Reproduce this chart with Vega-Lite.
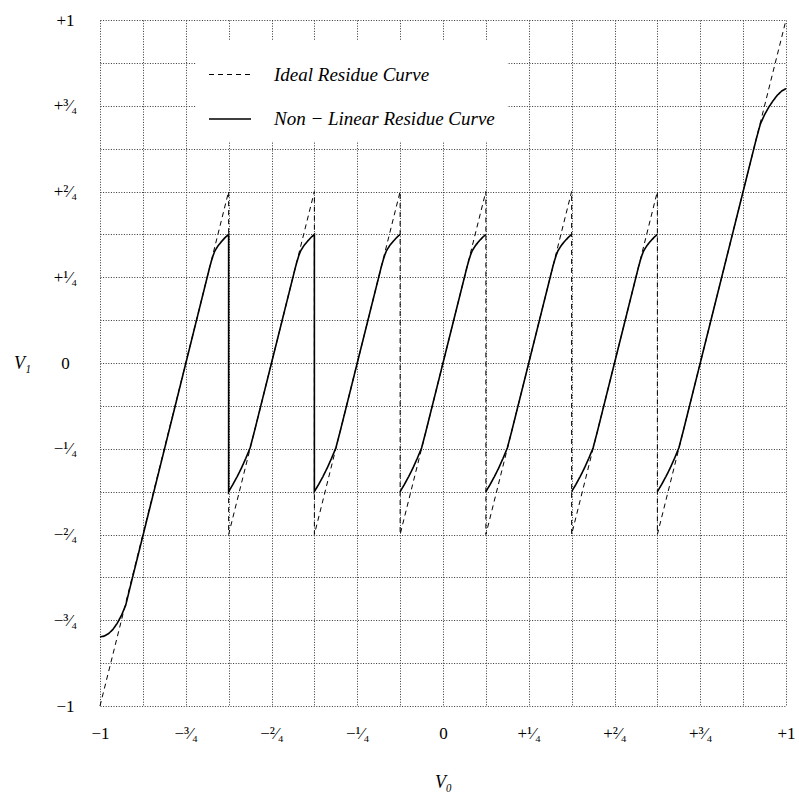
{
  "$schema": "https://vega.github.io/schema/vega-lite/v6.json",
  "width": 686,
  "height": 686,
  "autosize": "none",
  "padding": {"left": 100, "top": 20, "right": 13, "bottom": 92},
  "background": "white",
  "config": {
    "view": {"stroke": null},
    "font": "Liberation Serif",
    "axis": {
      "grid": true,
      "gridDash": [1, 1.6],
      "gridColor": "#333333",
      "gridOpacity": 1,
      "gridWidth": 1,
      "domain": false,
      "ticks": false,
      "tickSize": 0,
      "labelFont": "Liberation Serif",
      "labelFontSize": 17,
      "labelColor": "black",
      "labelFlush": false,
      "labelOverlap": false,
      "titleFont": "Liberation Serif",
      "titleFontStyle": "italic",
      "titleFontWeight": "normal",
      "titleFontSize": 18,
      "titleColor": "black"
    }
  },
  "data": {
    "values": [
      {"curve": "Ideal Residue Curve", "g": "i", "o": 0, "v0": -1, "v1": -1},
      {"curve": "Ideal Residue Curve", "g": "i", "o": 1, "v0": -0.625, "v1": 0.5},
      {"curve": "Ideal Residue Curve", "g": "i", "o": 2, "v0": -0.625, "v1": -0.5},
      {"curve": "Ideal Residue Curve", "g": "i", "o": 3, "v0": -0.375, "v1": 0.5},
      {"curve": "Ideal Residue Curve", "g": "i", "o": 4, "v0": -0.375, "v1": -0.5},
      {"curve": "Ideal Residue Curve", "g": "i", "o": 5, "v0": -0.125, "v1": 0.5},
      {"curve": "Ideal Residue Curve", "g": "i", "o": 6, "v0": -0.125, "v1": -0.5},
      {"curve": "Ideal Residue Curve", "g": "i", "o": 7, "v0": 0.125, "v1": 0.5},
      {"curve": "Ideal Residue Curve", "g": "i", "o": 8, "v0": 0.125, "v1": -0.5},
      {"curve": "Ideal Residue Curve", "g": "i", "o": 9, "v0": 0.375, "v1": 0.5},
      {"curve": "Ideal Residue Curve", "g": "i", "o": 10, "v0": 0.375, "v1": -0.5},
      {"curve": "Ideal Residue Curve", "g": "i", "o": 11, "v0": 0.625, "v1": 0.5},
      {"curve": "Ideal Residue Curve", "g": "i", "o": 12, "v0": 0.625, "v1": -0.5},
      {"curve": "Ideal Residue Curve", "g": "i", "o": 13, "v0": 1, "v1": 1},

      {"curve": "Non − Linear Residue Curve", "g": "a", "o": 0, "v0": -1, "v1": -0.799},
      {"curve": "Non − Linear Residue Curve", "g": "a", "o": 1, "v0": -0.9875, "v1": -0.796},
      {"curve": "Non − Linear Residue Curve", "g": "a", "o": 2, "v0": -0.975, "v1": -0.789},
      {"curve": "Non − Linear Residue Curve", "g": "a", "o": 3, "v0": -0.9625, "v1": -0.777},
      {"curve": "Non − Linear Residue Curve", "g": "a", "o": 4, "v0": -0.95, "v1": -0.759},
      {"curve": "Non − Linear Residue Curve", "g": "a", "o": 5, "v0": -0.9375, "v1": -0.736},
      {"curve": "Non − Linear Residue Curve", "g": "a", "o": 6, "v0": -0.925, "v1": -0.706},
      {"curve": "Non − Linear Residue Curve", "g": "a", "o": 7, "v0": -0.9125, "v1": -0.655},
      {"curve": "Non − Linear Residue Curve", "g": "a", "o": 8, "v0": -0.68, "v1": 0.28},
      {"curve": "Non − Linear Residue Curve", "g": "a", "o": 9, "v0": -0.675, "v1": 0.298},
      {"curve": "Non − Linear Residue Curve", "g": "a", "o": 10, "v0": -0.67, "v1": 0.314},
      {"curve": "Non − Linear Residue Curve", "g": "a", "o": 11, "v0": -0.665, "v1": 0.327},
      {"curve": "Non − Linear Residue Curve", "g": "a", "o": 12, "v0": -0.655, "v1": 0.343},
      {"curve": "Non − Linear Residue Curve", "g": "a", "o": 13, "v0": -0.645, "v1": 0.355},
      {"curve": "Non − Linear Residue Curve", "g": "a", "o": 14, "v0": -0.635, "v1": 0.366},
      {"curve": "Non − Linear Residue Curve", "g": "a", "o": 15, "v0": -0.625, "v1": 0.375},
      {"curve": "Non − Linear Residue Curve", "g": "a", "o": 16, "v0": -0.625, "v1": -0.375},
      {"curve": "Non − Linear Residue Curve", "g": "a", "o": 17, "v0": -0.6125, "v1": -0.354},
      {"curve": "Non − Linear Residue Curve", "g": "a", "o": 18, "v0": -0.6, "v1": -0.331},
      {"curve": "Non − Linear Residue Curve", "g": "a", "o": 19, "v0": -0.5875, "v1": -0.306},
      {"curve": "Non − Linear Residue Curve", "g": "a", "o": 20, "v0": -0.575, "v1": -0.278},
      {"curve": "Non − Linear Residue Curve", "g": "a", "o": 21, "v0": -0.5625, "v1": -0.248},
      {"curve": "Non − Linear Residue Curve", "g": "a", "o": 22, "v0": -0.55, "v1": -0.2},
      {"curve": "Non − Linear Residue Curve", "g": "a", "o": 23, "v0": -0.43, "v1": 0.28},
      {"curve": "Non − Linear Residue Curve", "g": "a", "o": 24, "v0": -0.425, "v1": 0.298},
      {"curve": "Non − Linear Residue Curve", "g": "a", "o": 25, "v0": -0.42, "v1": 0.314},
      {"curve": "Non − Linear Residue Curve", "g": "a", "o": 26, "v0": -0.415, "v1": 0.327},
      {"curve": "Non − Linear Residue Curve", "g": "a", "o": 27, "v0": -0.405, "v1": 0.343},
      {"curve": "Non − Linear Residue Curve", "g": "a", "o": 28, "v0": -0.395, "v1": 0.355},
      {"curve": "Non − Linear Residue Curve", "g": "a", "o": 29, "v0": -0.385, "v1": 0.366},
      {"curve": "Non − Linear Residue Curve", "g": "a", "o": 30, "v0": -0.375, "v1": 0.375},
      {"curve": "Non − Linear Residue Curve", "g": "a", "o": 31, "v0": -0.375, "v1": -0.375},
      {"curve": "Non − Linear Residue Curve", "g": "a", "o": 32, "v0": -0.3625, "v1": -0.354},
      {"curve": "Non − Linear Residue Curve", "g": "a", "o": 33, "v0": -0.35, "v1": -0.331},
      {"curve": "Non − Linear Residue Curve", "g": "a", "o": 34, "v0": -0.3375, "v1": -0.306},
      {"curve": "Non − Linear Residue Curve", "g": "a", "o": 35, "v0": -0.325, "v1": -0.278},
      {"curve": "Non − Linear Residue Curve", "g": "a", "o": 36, "v0": -0.3125, "v1": -0.248},
      {"curve": "Non − Linear Residue Curve", "g": "a", "o": 37, "v0": -0.3, "v1": -0.2},
      {"curve": "Non − Linear Residue Curve", "g": "a", "o": 38, "v0": -0.18, "v1": 0.28},
      {"curve": "Non − Linear Residue Curve", "g": "a", "o": 39, "v0": -0.175, "v1": 0.298},
      {"curve": "Non − Linear Residue Curve", "g": "a", "o": 40, "v0": -0.17, "v1": 0.314},
      {"curve": "Non − Linear Residue Curve", "g": "a", "o": 41, "v0": -0.165, "v1": 0.327},
      {"curve": "Non − Linear Residue Curve", "g": "a", "o": 42, "v0": -0.155, "v1": 0.343},
      {"curve": "Non − Linear Residue Curve", "g": "a", "o": 43, "v0": -0.145, "v1": 0.355},
      {"curve": "Non − Linear Residue Curve", "g": "a", "o": 44, "v0": -0.135, "v1": 0.366},
      {"curve": "Non − Linear Residue Curve", "g": "a", "o": 45, "v0": -0.125, "v1": 0.375},

      {"curve": "Non − Linear Residue Curve", "g": "b", "o": 0, "v0": -0.125, "v1": -0.375},
      {"curve": "Non − Linear Residue Curve", "g": "b", "o": 1, "v0": -0.1125, "v1": -0.354},
      {"curve": "Non − Linear Residue Curve", "g": "b", "o": 2, "v0": -0.1, "v1": -0.331},
      {"curve": "Non − Linear Residue Curve", "g": "b", "o": 3, "v0": -0.0875, "v1": -0.306},
      {"curve": "Non − Linear Residue Curve", "g": "b", "o": 4, "v0": -0.075, "v1": -0.278},
      {"curve": "Non − Linear Residue Curve", "g": "b", "o": 5, "v0": -0.0625, "v1": -0.248},
      {"curve": "Non − Linear Residue Curve", "g": "b", "o": 6, "v0": -0.05, "v1": -0.2},
      {"curve": "Non − Linear Residue Curve", "g": "b", "o": 7, "v0": 0.07, "v1": 0.28},
      {"curve": "Non − Linear Residue Curve", "g": "b", "o": 8, "v0": 0.075, "v1": 0.298},
      {"curve": "Non − Linear Residue Curve", "g": "b", "o": 9, "v0": 0.08, "v1": 0.314},
      {"curve": "Non − Linear Residue Curve", "g": "b", "o": 10, "v0": 0.085, "v1": 0.327},
      {"curve": "Non − Linear Residue Curve", "g": "b", "o": 11, "v0": 0.095, "v1": 0.343},
      {"curve": "Non − Linear Residue Curve", "g": "b", "o": 12, "v0": 0.105, "v1": 0.355},
      {"curve": "Non − Linear Residue Curve", "g": "b", "o": 13, "v0": 0.115, "v1": 0.366},
      {"curve": "Non − Linear Residue Curve", "g": "b", "o": 14, "v0": 0.125, "v1": 0.375},

      {"curve": "Non − Linear Residue Curve", "g": "c", "o": 0, "v0": 0.125, "v1": -0.375},
      {"curve": "Non − Linear Residue Curve", "g": "c", "o": 1, "v0": 0.1375, "v1": -0.354},
      {"curve": "Non − Linear Residue Curve", "g": "c", "o": 2, "v0": 0.15, "v1": -0.331},
      {"curve": "Non − Linear Residue Curve", "g": "c", "o": 3, "v0": 0.1625, "v1": -0.306},
      {"curve": "Non − Linear Residue Curve", "g": "c", "o": 4, "v0": 0.175, "v1": -0.278},
      {"curve": "Non − Linear Residue Curve", "g": "c", "o": 5, "v0": 0.1875, "v1": -0.248},
      {"curve": "Non − Linear Residue Curve", "g": "c", "o": 6, "v0": 0.2, "v1": -0.2},
      {"curve": "Non − Linear Residue Curve", "g": "c", "o": 7, "v0": 0.32, "v1": 0.28},
      {"curve": "Non − Linear Residue Curve", "g": "c", "o": 8, "v0": 0.325, "v1": 0.298},
      {"curve": "Non − Linear Residue Curve", "g": "c", "o": 9, "v0": 0.33, "v1": 0.314},
      {"curve": "Non − Linear Residue Curve", "g": "c", "o": 10, "v0": 0.335, "v1": 0.327},
      {"curve": "Non − Linear Residue Curve", "g": "c", "o": 11, "v0": 0.345, "v1": 0.343},
      {"curve": "Non − Linear Residue Curve", "g": "c", "o": 12, "v0": 0.355, "v1": 0.355},
      {"curve": "Non − Linear Residue Curve", "g": "c", "o": 13, "v0": 0.365, "v1": 0.366},
      {"curve": "Non − Linear Residue Curve", "g": "c", "o": 14, "v0": 0.375, "v1": 0.375},

      {"curve": "Non − Linear Residue Curve", "g": "d", "o": 0, "v0": 0.375, "v1": -0.375},
      {"curve": "Non − Linear Residue Curve", "g": "d", "o": 1, "v0": 0.3875, "v1": -0.354},
      {"curve": "Non − Linear Residue Curve", "g": "d", "o": 2, "v0": 0.4, "v1": -0.331},
      {"curve": "Non − Linear Residue Curve", "g": "d", "o": 3, "v0": 0.4125, "v1": -0.306},
      {"curve": "Non − Linear Residue Curve", "g": "d", "o": 4, "v0": 0.425, "v1": -0.278},
      {"curve": "Non − Linear Residue Curve", "g": "d", "o": 5, "v0": 0.4375, "v1": -0.248},
      {"curve": "Non − Linear Residue Curve", "g": "d", "o": 6, "v0": 0.45, "v1": -0.2},
      {"curve": "Non − Linear Residue Curve", "g": "d", "o": 7, "v0": 0.57, "v1": 0.28},
      {"curve": "Non − Linear Residue Curve", "g": "d", "o": 8, "v0": 0.575, "v1": 0.298},
      {"curve": "Non − Linear Residue Curve", "g": "d", "o": 9, "v0": 0.58, "v1": 0.314},
      {"curve": "Non − Linear Residue Curve", "g": "d", "o": 10, "v0": 0.585, "v1": 0.327},
      {"curve": "Non − Linear Residue Curve", "g": "d", "o": 11, "v0": 0.595, "v1": 0.343},
      {"curve": "Non − Linear Residue Curve", "g": "d", "o": 12, "v0": 0.605, "v1": 0.355},
      {"curve": "Non − Linear Residue Curve", "g": "d", "o": 13, "v0": 0.615, "v1": 0.366},
      {"curve": "Non − Linear Residue Curve", "g": "d", "o": 14, "v0": 0.625, "v1": 0.375},

      {"curve": "Non − Linear Residue Curve", "g": "e", "o": 0, "v0": 0.625, "v1": -0.375},
      {"curve": "Non − Linear Residue Curve", "g": "e", "o": 1, "v0": 0.6375, "v1": -0.354},
      {"curve": "Non − Linear Residue Curve", "g": "e", "o": 2, "v0": 0.65, "v1": -0.331},
      {"curve": "Non − Linear Residue Curve", "g": "e", "o": 3, "v0": 0.6625, "v1": -0.306},
      {"curve": "Non − Linear Residue Curve", "g": "e", "o": 4, "v0": 0.675, "v1": -0.278},
      {"curve": "Non − Linear Residue Curve", "g": "e", "o": 5, "v0": 0.6875, "v1": -0.248},
      {"curve": "Non − Linear Residue Curve", "g": "e", "o": 6, "v0": 0.7, "v1": -0.2},
      {"curve": "Non − Linear Residue Curve", "g": "e", "o": 7, "v0": 0.9125, "v1": 0.65},
      {"curve": "Non − Linear Residue Curve", "g": "e", "o": 8, "v0": 0.925, "v1": 0.696},
      {"curve": "Non − Linear Residue Curve", "g": "e", "o": 9, "v0": 0.9375, "v1": 0.724},
      {"curve": "Non − Linear Residue Curve", "g": "e", "o": 10, "v0": 0.95, "v1": 0.746},
      {"curve": "Non − Linear Residue Curve", "g": "e", "o": 11, "v0": 0.9625, "v1": 0.765},
      {"curve": "Non − Linear Residue Curve", "g": "e", "o": 12, "v0": 0.975, "v1": 0.781},
      {"curve": "Non − Linear Residue Curve", "g": "e", "o": 13, "v0": 0.9875, "v1": 0.793},
      {"curve": "Non − Linear Residue Curve", "g": "e", "o": 14, "v0": 1, "v1": 0.8}
    ]
  },
  "mark": {"type": "line", "color": "black", "strokeCap": "butt", "clip": false},
  "encoding": {
    "x": {
      "field": "v0",
      "type": "quantitative",
      "scale": {"domain": [-1, 1], "nice": false, "zero": false},
      "axis": {
        "values": [-1, -0.875, -0.75, -0.625, -0.5, -0.375, -0.25, -0.125, 0, 0.125, 0.25, 0.375, 0.5, 0.625, 0.75, 0.875, 1],
        "labelExpr": "datum.value == -1 ? '−1' : datum.value == -0.75 ? '−³⁄₄' : datum.value == -0.5 ? '−²⁄₄' : datum.value == -0.25 ? '−¹⁄₄' : datum.value == 0 ? '0' : datum.value == 0.25 ? '+¹⁄₄' : datum.value == 0.5 ? '+²⁄₄' : datum.value == 0.75 ? '+³⁄₄' : datum.value == 1 ? '+1' : ''",
        "labelPadding": 27,
        "labelBaseline": "middle",
        "labelAlign": "center",
        "title": "V₀",
        "titleX": 343,
        "titleY": 76,
        "titleAlign": "center",
        "titleBaseline": "middle"
      }
    },
    "y": {
      "field": "v1",
      "type": "quantitative",
      "scale": {"domain": [-1, 1], "nice": false, "zero": false},
      "axis": {
        "values": [-1, -0.875, -0.75, -0.625, -0.5, -0.375, -0.25, -0.125, 0, 0.125, 0.25, 0.375, 0.5, 0.625, 0.75, 0.875, 1],
        "labelExpr": "datum.value == -1 ? '−1' : datum.value == -0.75 ? '−³⁄₄' : datum.value == -0.5 ? '−²⁄₄' : datum.value == -0.25 ? '−¹⁄₄' : datum.value == 0 ? '0' : datum.value == 0.25 ? '+¹⁄₄' : datum.value == 0.5 ? '+²⁄₄' : datum.value == 0.75 ? '+³⁄₄' : datum.value == 1 ? '+1' : ''",
        "labelPadding": 35,
        "labelAlign": "center",
        "labelBaseline": "middle",
        "title": "V₁",
        "titleAngle": 0,
        "titleX": -78,
        "titleY": 343,
        "titleAlign": "center",
        "titleBaseline": "middle"
      }
    },
    "detail": {"field": "g"},
    "order": {"field": "o", "type": "quantitative"},
    "strokeDash": {
      "field": "curve",
      "type": "nominal",
      "scale": {"domain": ["Ideal Residue Curve", "Non − Linear Residue Curve"], "range": [[5, 4], [1, 0]]},
      "legend": {
        "title": null,
        "orient": "none",
        "offset": 0,
        "legendX": 96,
        "legendY": 21,
        "fillColor": "white",
        "padding": 12,
        "symbolType": "stroke",
        "symbolSize": 1764,
        "symbolStrokeColor": "black",
        "symbolStrokeWidth": 1.3,
        "labelFont": "Liberation Serif",
        "labelFontStyle": "italic",
        "labelFontSize": 19,
        "labelColor": "black",
        "labelOffset": 22,
        "labelLimit": 400,
        "rowPadding": 12
      }
    },
    "strokeWidth": {
      "field": "curve",
      "type": "ordinal",
      "scale": {"domain": ["Ideal Residue Curve", "Non − Linear Residue Curve"], "range": [1, 1.6]},
      "legend": null
    }
  }
}
